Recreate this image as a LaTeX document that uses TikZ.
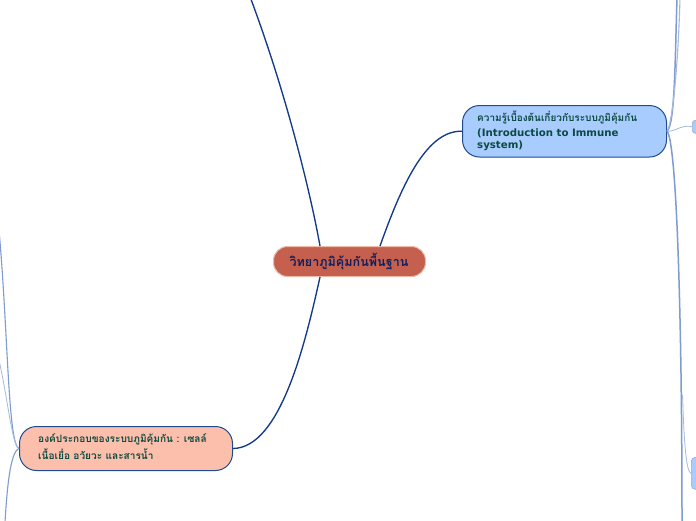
\documentclass[tikz,border=0pt]{standalone}
\usepackage{fontspec}
\setmainfont{DejaVu Sans}
\newfontfamily\thaifont[Script=Thai]{Loma}
\definecolor{rootfill}{HTML}{C5604E}
\definecolor{rootedge}{HTML}{EBBBAA}
\definecolor{rootink}{HTML}{0F1F5F}
\definecolor{bluefill}{HTML}{A9CCFF}
\definecolor{pinkfill}{HTML}{FBBFAB}
\definecolor{edgeblue}{HTML}{1F4A90}
\definecolor{mainline}{HTML}{143A8A}
\definecolor{subline}{HTML}{7F9BCF}
\definecolor{greenink}{HTML}{0B4A40}
\tikzset{
  x=1pt,y=-1pt,
  topic/.style={rounded corners=17pt,draw=edgeblue,line width=1pt,anchor=north west,inner sep=0pt,minimum height=#1},
  mainconn/.style={draw=mainline,line width=1.35pt},
  subconn/.style={draw=subline,line width=1.1pt},
  thinconn/.style={draw=subline!70,line width=0.8pt},
  bodytext/.style={text=greenink,font=\fontsize{10.2}{12.5}\selectfont\bfseries,align=left}
}
\begin{document}
\begin{tikzpicture}
\useasboundingbox (0,0) rectangle (696,520);
\clip (0,0) rectangle (696,520);
\fill[white] (0,0) rectangle (696,520);
% off-page ends
\coordinate (upEnd) at (250.5,-2);
\coordinate (rA) at (680,-2);
\coordinate (rB) at (677,-2);
\coordinate (rC) at (682,522);
\coordinate (rD) at (682.5,395);
\coordinate (lA) at (-1,230);
\coordinate (lB) at (-1,360);
\coordinate (lC) at (5,522);
% nodes
\node[rounded corners=14pt,fill=rootfill,draw=rootedge,line width=1pt,anchor=north west,minimum width=152pt,minimum height=30pt,inner sep=0pt] (root) at (273,246) {};
\node[text=rootink,font=\thaifont\fontsize{12.6}{15}\selectfont\bfseries] (rootlabel) at (349,261) {วิทยาภูมิคุ้มกันพื้นฐาน};
\node[topic=51.5pt,fill=bluefill,minimum width=204pt] (intro) at (462,105) {};
\node[bodytext,anchor=north west,inner sep=0pt] (introlabel) at (477,110.5) {{\thaifont\fontsize{10}{13}\selectfont ความรู้เบื้องต้นเกี่ยวกับระบบภูมิคุ้มกัน}\\[2.5pt]{(Introduction to Immune}\\system)};
\node[topic=44pt,fill=pinkfill,minimum width=213pt] (parts) at (19,426) {};
\node[bodytext,anchor=north west,inner sep=0pt,font=\thaifont\fontsize{10.1}{17.5}\selectfont\bfseries] (partslabel) at (38,433) {องค์ประกอบของระบบภูมิคุ้มกัน : เซลล์\\เนื้อเยื่อ อวัยวะ และสารน้ำ};
\node[rounded corners=3pt,fill=bluefill,draw=edgeblue!45,line width=0.6pt,anchor=north west,minimum width=12pt,minimum height=13pt,inner sep=0pt] (smallA) at (692,120) {};
\node[rounded corners=4pt,fill=bluefill,draw=edgeblue!45,line width=0.6pt,anchor=north west,minimum width=12pt,minimum height=32pt,inner sep=0pt] (smallB) at (691,457) {};
% connectors
\draw[mainconn] (root.north west)++(47,0) .. controls (310,190) and (285,90) .. (upEnd);
\draw[mainconn] (root.north west)++(107,0) .. controls (400,190) and (425,130) .. (intro.west);
\draw[mainconn] (root.south west)++(47,0) .. controls (305,345) and (280,448) .. (parts.east);
\draw[subconn,line width=1.5pt] (intro.east) .. controls (675,125) and (675,60) .. (rB);
\draw[thinconn,line width=1.1pt] (intro.east) .. controls (672,125) and (678,70) .. (rA);
\draw[thinconn] (intro.east) .. controls (675,132) and (682,124) .. (smallA.west);
\draw[subconn,line width=1.5pt] (intro.east) .. controls (676,140) and (682,300) .. (rC);
\draw[thinconn] (smallB.west) .. controls (686,472) and (684,440) .. (rD);
\draw[subconn] (parts.west) .. controls (8,445) and (8,330) .. (lA);
\draw[thinconn] (parts.west) .. controls (12,445) and (8,400) .. (lB);
\draw[subconn] (parts.west) .. controls (10,452) and (7,490) .. (lC);
\end{tikzpicture}
\end{document}
